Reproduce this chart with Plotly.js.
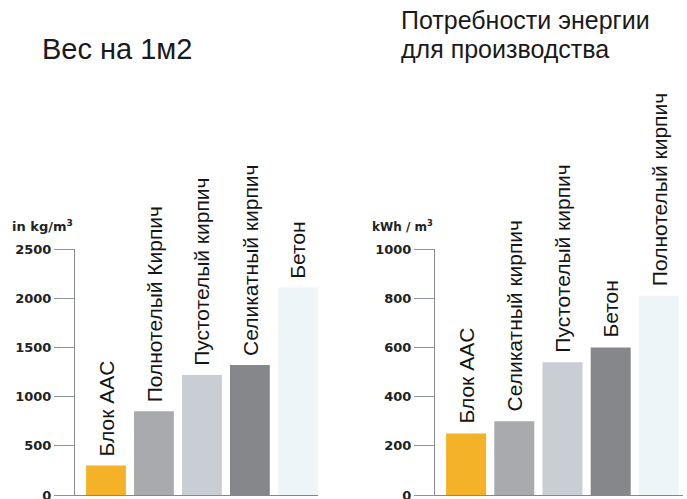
<!DOCTYPE html>
<html>
<head>
<meta charset="utf-8">
<script src="https://cdn.plot.ly/plotly-3.0.1.min.js"></script>
<style>
html,body{margin:0;padding:0;background:#fff;}
#chart{width:687px;height:499px;}
</style>
</head>
<body>
<div id="chart"></div>
<script>
// ---- data ----
const weightTitle = 'Вес на 1м2';
const energyTitleLines = ['Потребности энергии', 'для производства'];
const weightUnit = 'in kg/m<sup>3</sup>';
const energyUnit = 'kWh / m<sup>3</sup>';

const weightCats = ['Блок AAC', 'Полнотелый Кирпич', 'Пустотелый кирпич', 'Селикатный кирпич', 'Бетон'];
const weightVals = [300, 850, 1220, 1320, 2110];
const weightTicks = [0, 500, 1000, 1500, 2000, 2500];

const energyCats = ['Блок AAC', 'Селикатный кирпич', 'Пустотелый кирпич', 'Бетон', 'Полнотелый кирпич'];
const energyVals = [250, 300, 540, 600, 810];
const energyTicks = [0, 200, 400, 600, 800, 1000];

const barColors = ['#F3B227', '#A9AAAD', '#C9CED4', '#85878A', '#EDF5F8'];

// ---- chart ----
const W = 687, H = 499;
const labelFont = {family: 'Liberation Sans, Arial, sans-serif', size: 21, color: '#151515'};
const tickFont = {family: 'DejaVu Sans, sans-serif', size: 13, color: '#222', weight: 'bold'};

const traces = [
  {type: 'bar', x: weightCats, y: weightVals, xaxis: 'x', yaxis: 'y',
   marker: {color: barColors, line: {width: 0}}, hoverinfo: 'x+y'},
  {type: 'bar', x: energyCats, y: energyVals, xaxis: 'x2', yaxis: 'y2',
   marker: {color: barColors, line: {width: 0}}, hoverinfo: 'x+y'}
];

const yDomain = [(H - 495) / H, (H - 249) / H];

function yAxis(ticks, anchor) {
  return {
    domain: yDomain, anchor: anchor,
    range: [0, ticks[ticks.length - 1]],
    tickvals: ticks, ticktext: ticks.map(String),
    ticks: 'outside', ticklen: 20, tickwidth: 1, tickcolor: '#8a93a3',
    showline: true, linecolor: '#8a8a8a', linewidth: 1,
    showgrid: false, zeroline: false,
    ticklabeloverflow: 'allow',
    tickfont: tickFont
  };
}
function xAxis(domain, range, anchor) {
  return {
    domain: domain, anchor: anchor, type: 'category', range: range,
    showticklabels: false, ticks: '', showgrid: false, zeroline: false,
    showline: true, linecolor: '#7f8896', linewidth: 1
  };
}

const annotations = [];
weightCats.forEach((c, i) => {
  annotations.push({xref: 'x', yref: 'y', x: c, y: weightVals[i], text: c,
    textangle: -90, showarrow: false, xanchor: 'center', yanchor: 'bottom',
    yshift: 7, font: labelFont});
});
energyCats.forEach((c, i) => {
  annotations.push({xref: 'x2', yref: 'y2', x: c, y: energyVals[i], text: c,
    textangle: -90, showarrow: false, xanchor: 'center', yanchor: 'bottom',
    yshift: 8, font: labelFont});
});
const leftTitleFont = {family: 'Liberation Sans, Arial, sans-serif', size: 29, color: '#1a1a1a'};
const rightTitleFont = {family: 'Liberation Sans, Arial, sans-serif', size: 25, color: '#1a1a1a'};
annotations.push({xref: 'paper', yref: 'paper', x: 40 / W, y: (H - 49) / H,
  text: weightTitle, showarrow: false, xanchor: 'left', yanchor: 'middle', font: leftTitleFont});
annotations.push({xref: 'paper', yref: 'paper', x: 399 / W, y: (H - 20) / H,
  text: energyTitleLines[0], showarrow: false, xanchor: 'left', yanchor: 'middle', font: rightTitleFont});
annotations.push({xref: 'paper', yref: 'paper', x: 399 / W, y: (H - 49) / H,
  text: energyTitleLines[1], showarrow: false, xanchor: 'left', yanchor: 'middle', font: rightTitleFont});
const unitFontL = {family: 'DejaVu Sans, sans-serif', size: 13, color: '#222', weight: 'bold'};
const unitFontR = {family: 'DejaVu Sans, sans-serif', size: 12, color: '#222', weight: 'bold'};
annotations.push({xref: 'paper', yref: 'paper', x: 10 / W, y: (H - 226) / H,
  text: weightUnit, showarrow: false, xanchor: 'left', yanchor: 'middle', font: unitFontL});
annotations.push({xref: 'paper', yref: 'paper', x: 370 / W, y: (H - 226) / H,
  text: energyUnit, showarrow: false, xanchor: 'left', yanchor: 'middle', font: unitFontR});

const layout = {
  width: W, height: H,
  margin: {l: 0, r: 0, t: 0, b: 0, pad: 0},
  paper_bgcolor: '#ffffff', plot_bgcolor: 'rgba(0,0,0,0)',
  showlegend: false, bargap: 0.17,
  xaxis: xAxis([75 / W, 318 / W], [-0.646, 4.42], 'y'),
  yaxis: yAxis(weightTicks, 'x'),
  xaxis2: xAxis([435 / W, 683 / W], [-0.645, 4.5], 'y2'),
  yaxis2: yAxis(energyTicks, 'x2'),
  annotations: annotations
};

Plotly.newPlot('chart', traces, layout, {staticPlot: true, displayModeBar: false});
</script>
</body>
</html>
